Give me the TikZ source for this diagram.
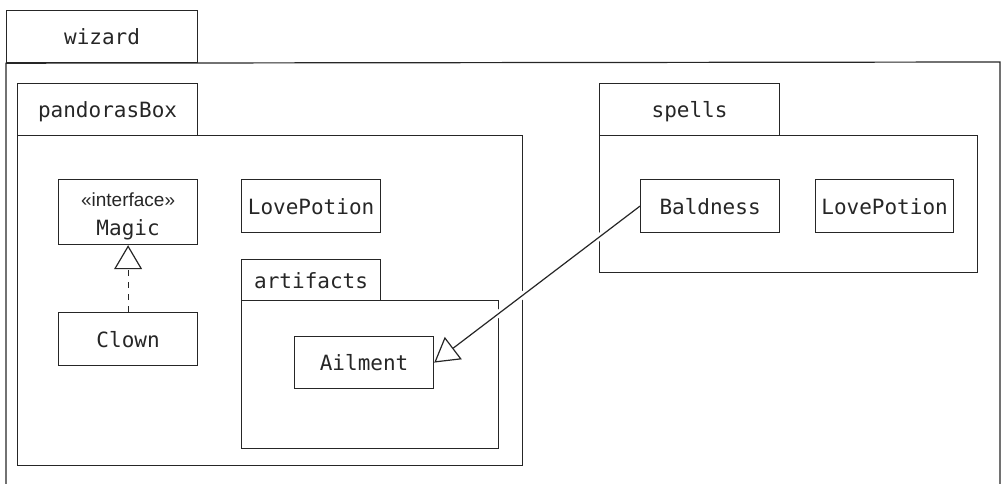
\documentclass[tikz,border=0pt]{standalone}
\usepackage{fontspec}
\setmonofont{DejaVu Sans Mono}
\newfontfamily\stereofont{Liberation Sans}
\usetikzlibrary{arrows.meta}

\begin{document}
\begin{tikzpicture}[x=1pt, y=-1pt, line width=1.2pt, color=black!85,
        frame/.style={draw, anchor=north west, inner sep=0pt,
          font=\fontsize{21}{29}\selectfont\ttfamily},
        clsbox/.style={frame, minimum width=139pt, minimum height=53pt,
          text height=16pt, text depth=0pt},
        tabbox/.style={frame, minimum width=180pt, minimum height=52pt,
          text height=16pt, text depth=0pt},
        pkgbox/.style={frame},
        >={Triangle[open, length=24pt, width=28pt]}]
      \useasboundingbox (0,0) rectangle (1005,484);
      % wizard
      \node (wiztab) at (6,10) [tabbox, minimum width=191pt] {wizard};
      \draw (wiztab.south west |- 0,484) -- (wiztab.south west)
        -- (1000,62) -- (1000,484);
      % pandorasBox
      \node (pbtab) at (17,83) [tabbox] {pandorasBox};
      \node (pbbody) at (17,135) [pkgbox, minimum width=505pt, minimum height=330pt] {};
      \node (magic) at (58,179) [frame, minimum width=139pt, minimum height=65pt,
        align=center] {{\stereofont\fontsize{19}{24}\selectfont\rule{0pt}{22pt}«interface»}\\Magic};
      \node (clown) at (58,312) [clsbox] {Clown};
      \node (potionA) at (241,179) [clsbox] {LovePotion};
      % artifacts
      \node (arttab) at (241,259) [tabbox, minimum width=139pt, minimum height=41pt] {artifacts};
      \node (artbody) at (241,300) [pkgbox, minimum width=257pt, minimum height=148pt] {};
      \node (ailment) at (294,336) [clsbox, minimum height=52pt] {Ailment};
      % spells
      \node (spelltab) at (599,83) [tabbox] {spells};
      \node (spellbody) at (599,135) [pkgbox, minimum width=378pt, minimum height=137pt] {};
      \node (baldness) at (640,179) [clsbox] {Baldness};
      \node (potionB) at (815,179) [clsbox, minimum width=138pt] {LovePotion};
      \draw[->, dash pattern=on 6pt off 6pt] (clown) -- (magic);
      \draw[->, preaction={draw=white, line width=7pt, -,
          shorten <=14pt, shorten >=40pt}] (baldness.west) -- (ailment.east);
    \end{tikzpicture}
\end{document}
